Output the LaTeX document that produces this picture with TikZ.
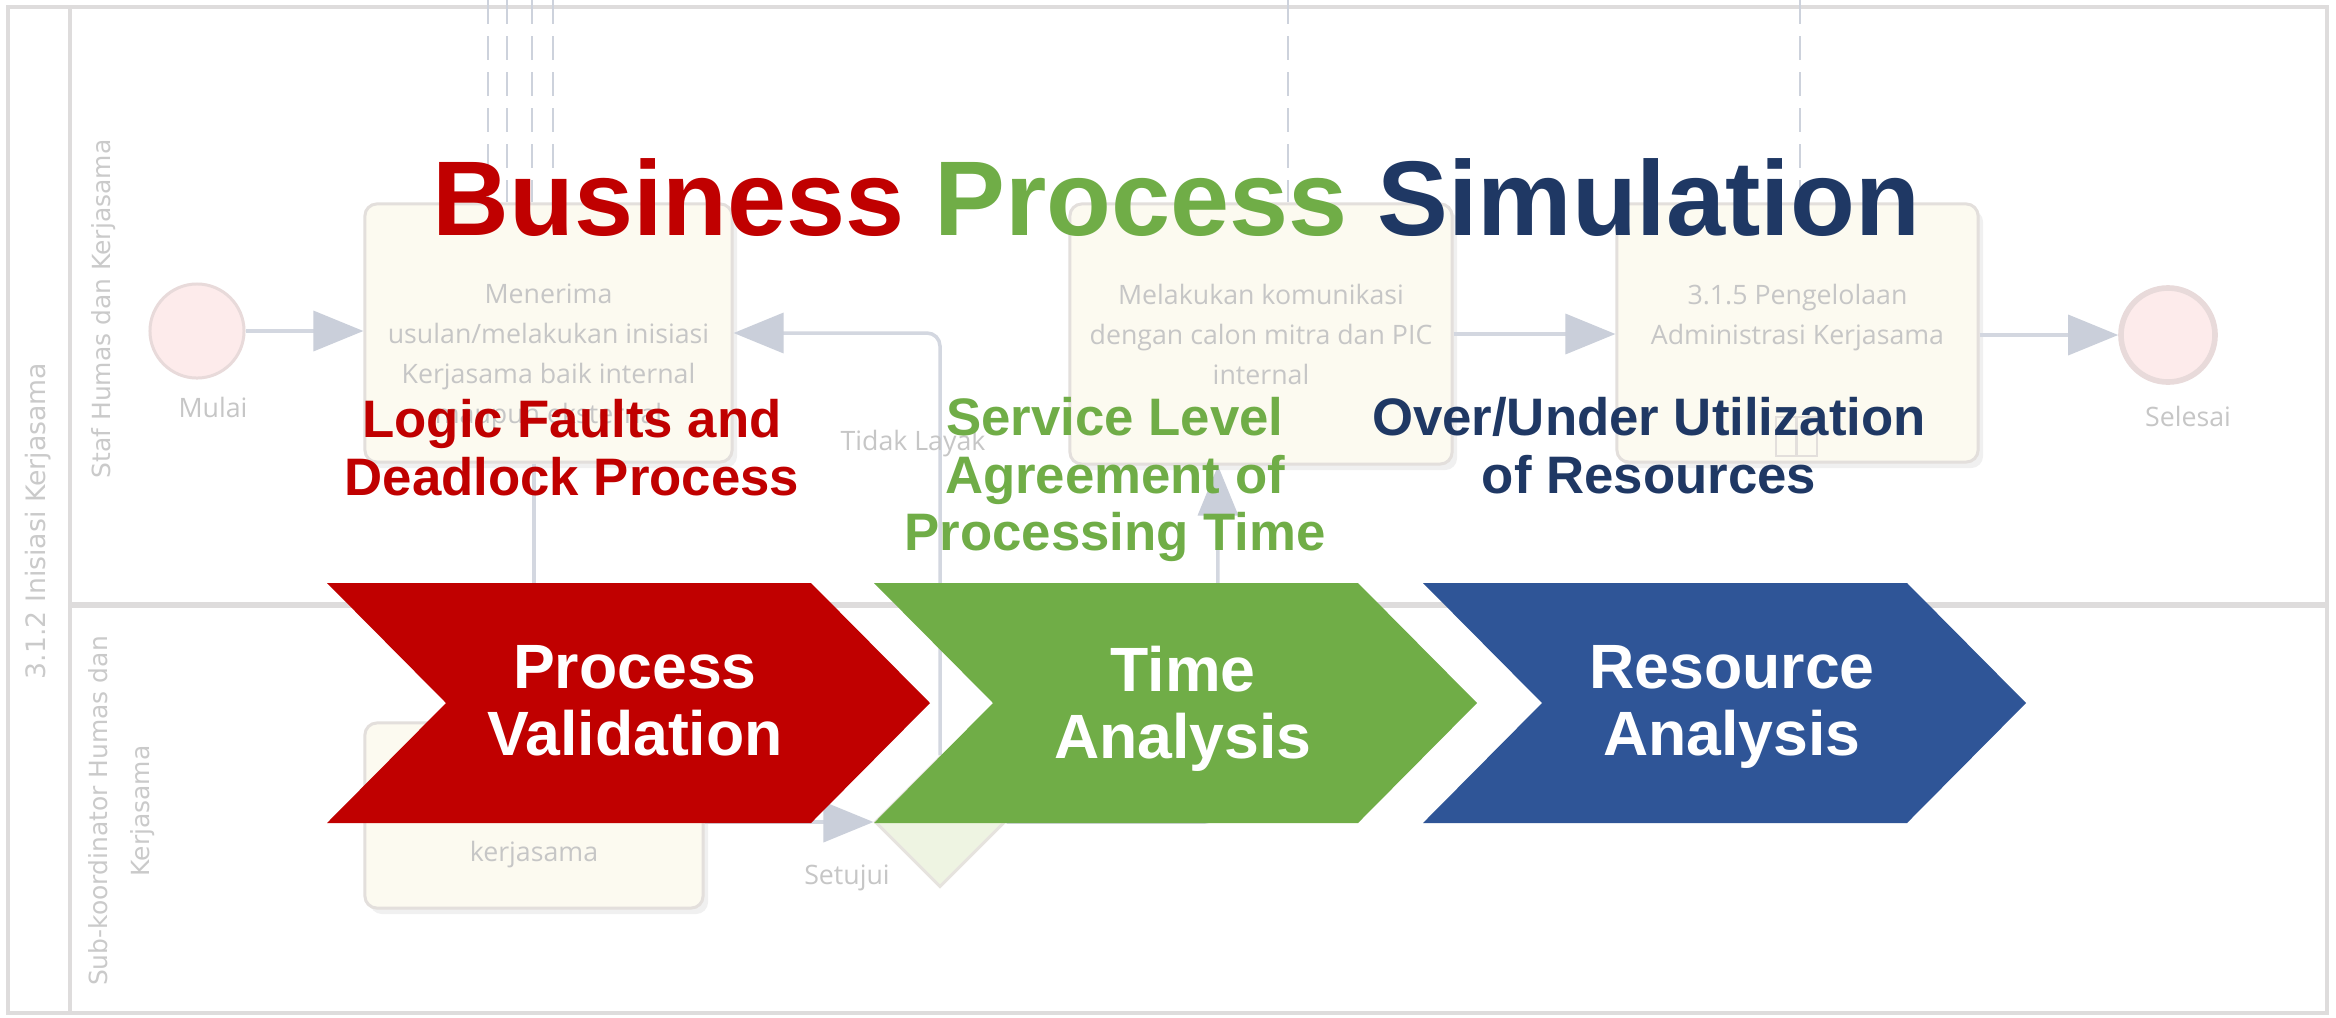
\documentclass[tikz,border=0pt]{standalone}
\usepackage{fontspec}
\setmainfont{Liberation Sans}
\newfontfamily\bpmnfont{Open Sans}
\newfontfamily\lanefont{DejaVu Sans}
\usetikzlibrary{arrows.meta,calc,shapes.geometric,shadows}

\definecolor{cred}{HTML}{C00000}
\definecolor{cgreen}{HTML}{70AD47}
\definecolor{cnavy}{HTML}{1F3864}
\definecolor{cblue}{HTML}{2F5597}
\definecolor{poolline}{HTML}{DEDCDC}
\definecolor{flowcol}{HTML}{D3D7E0}
\definecolor{tipcol}{HTML}{CACFDA}
\definecolor{msgcol}{HTML}{CDD2DC}
\definecolor{taskfill}{HTML}{FCFAF0}
\definecolor{taskborder}{HTML}{E3DFDC}
\definecolor{evfill}{HTML}{FDEBEB}
\definecolor{evborder}{HTML}{E8DADA}
\definecolor{gwfill}{HTML}{EEF4E2}
\definecolor{gwborder}{HTML}{E6E3DE}
\definecolor{bpmngray}{HTML}{C6C6C6}
\definecolor{lanegray}{HTML}{CACACA}

\tikzset{
  task/.style={draw=taskborder, line width=0.85pt, fill=taskfill,
    rounded corners=0.12cm, inner sep=0,
    drop shadow={shadow xshift=0.05cm, shadow yshift=-0.06cm, fill=black, opacity=0.06}},
  bpmnevent/.style={circle, draw=evborder, fill=evfill, line width=0.85pt,
    minimum size=0.94cm, inner sep=0},
  endevent/.style={bpmnevent, line width=1.6pt},
  gateway/.style={diamond, draw=gwborder, fill=gwfill, line width=0.85pt,
    minimum width=1.3cm, minimum height=1.3cm, inner sep=0},
  flow/.style={draw=flowcol, line width=1pt,
    -{Triangle[length=0.5cm,width=0.4cm,color=tipcol]}},
  msgflow/.style={draw=msgcol, line width=0.8pt, dash pattern=on 0.24cm off 0.12cm},
  bpmntext/.style={text=bpmngray, font=\bpmnfont\fontsize{7.6}{11.4}\selectfont,
    align=center, inner sep=0},
  lanetext/.style={text=lanegray, font=\lanefont\fontsize{7.1}{12}\selectfont,
    rotate=90, align=center, inner sep=0},
  subtitle/.style={font=\fontsize{15}{16.3}\selectfont\bfseries, align=center,
    inner sep=0, anchor=north},
  chevtext/.style={text=white, font=\fontsize{17.8}{19.06}\selectfont\bfseries,
    align=center, inner sep=0, anchor=north},
  chevron/.pic={\fill (0,0) -- (484,0) -- (603,120) -- (484,240) -- (0,240) -- (119,120) -- cycle;}
}

\begin{document}
\begin{tikzpicture}[x=0.01cm, y=-0.01cm]
\useasboundingbox (0,0) rectangle (2336,1017);
\fill[white] (0,0) rectangle (2336,1017);

% ---------- pool and lanes ----------
\draw[poolline, line width=1.1pt] (8,7) rectangle (2327,1013);
\draw[poolline, line width=1.1pt] (70,7) -- (70,1013);
\draw[poolline, line width=1.6pt] (70,605) -- (2327,605);

\node[lanetext, font=\lanefont\fontsize{7.6}{12}\selectfont] (poollabel) at (38,521) {3.1.2 Inisiasi Kerjasama};
\node[lanetext] (lane1label) at (104,309) {Staf Humas dan Kerjasama};
\node[lanetext] (lane2label) at (122,811) {Sub-koordinator Humas dan\\Kerjasama};

% ---------- message flows ----------
\coordinate (m1) at (488,0);
\coordinate (m2) at (507,0);
\coordinate (m3) at (532,0);
\coordinate (m4) at (553,0);
\coordinate (m5) at (1288,0);
\coordinate (m6) at (1800,0);

% ---------- tasks and events ----------
\node[bpmnevent] (start) at (197,331) {};
\node[bpmntext, anchor=base] (startlabel) at (213,417) {Mulai};

\node[task, minimum width=3.67cm, minimum height=2.58cm] (t1) at (548.5,333) {};
\node[bpmntext, anchor=north] (t1text) at (548.5,283)
  {Menerima\\usulan/melakukan inisiasi\\Kerjasama baik internal\\maupun eksternal};

\node[task, minimum width=3.38cm, minimum height=1.85cm] (t2) at (534,815.5) {};
\node[bpmntext, anchor=base] (t2text) at (534,861) {kerjasama};

\node[task, minimum width=3.82cm, minimum height=2.60cm] (t3) at (1261,334) {};
\node[bpmntext, anchor=north] (t3text) at (1261,283)
  {Melakukan komunikasi\\dengan calon mitra dan PIC\\internal};

\node[task, minimum width=3.61cm, minimum height=2.58cm] (t4) at (1797.5,333) {};
\node[bpmntext, anchor=north] (t4text) at (1797.5,283)
  {3.1.5 Pengelolaan\\Administrasi Kerjasama};
\draw[taskborder, line width=0.7pt] (1776,417) rectangle (1817,456);
\draw[taskborder, line width=0.7pt] (1796.5,417) -- (1796.5,456);

\node[endevent] (end) at (2168,335) {};
\node[bpmntext, anchor=base] (endlabel) at (2188,426) {Selesai};

\node[gateway] (gw) at (940,822) {};

\foreach \m in {m1,m2,m3,m4} \draw[msgflow] (\m) -- (\m |- t1.north);
\draw[msgflow] (m5) -- (m5 |- t3.north);
\draw[msgflow] (m6) -- (m6 |- t4.north);

% ---------- sequence flows ----------
\draw[flow] (start.east) -- (start.east -| t1.west);
\draw[flow] (t2.north |- t1.south) -- (t2.north);
\draw[flow] (gw.west -| t2.east) -- (gw.west);
\draw[flow, rounded corners=0.13cm] (gw.north) |- (t1.east);
\coordinate (t3in) at ([xshift=-0.43cm]t3.south);
\draw[flow, rounded corners=0.13cm] (gw.east) -| (t3in);
\draw[flow] (t3.east) -- (t3.east -| t4.west);
\draw[flow] (end.west -| t4.east) -- (end.west);

\node[bpmntext, anchor=base] (nolabel) at (913,450) {Tidak Layak};
\node[bpmntext, anchor=base] (yeslabel) at (847,884) {Setujui};

% ---------- foreground ----------
\node[anchor=base west, inner sep=0, font=\fontsize{30.2}{36}\selectfont\bfseries] (title) at (432,235)
  {\textcolor{cred}{Business} \textcolor{cgreen}{Process} \textcolor{cnavy}{Simulation}};

\node[subtitle, text=cred] (sub1) at (572,399) {Logic Faults and\\Deadlock Process};
\node[subtitle, text=cgreen] (sub2) at (1115,397) {Service Level\\Agreement of\\Processing Time};
\node[subtitle, text=cnavy] (sub3) at (1649,397) {Over/Under Utilization\\of Resources};

\pic[fill=cred] at (327,583) {chevron};
\pic[fill=cgreen] at (874,583) {chevron};
\pic[fill=cblue] at (1423,583) {chevron};

\node[chevtext] (c1) at (635,645) {Process\\Validation};
\node[chevtext] (c2) at (1183,645) {Time\\Analysis};
\node[chevtext] (c3) at (1732,645) {Resource\\Analysis};
\end{tikzpicture}
\end{document}
